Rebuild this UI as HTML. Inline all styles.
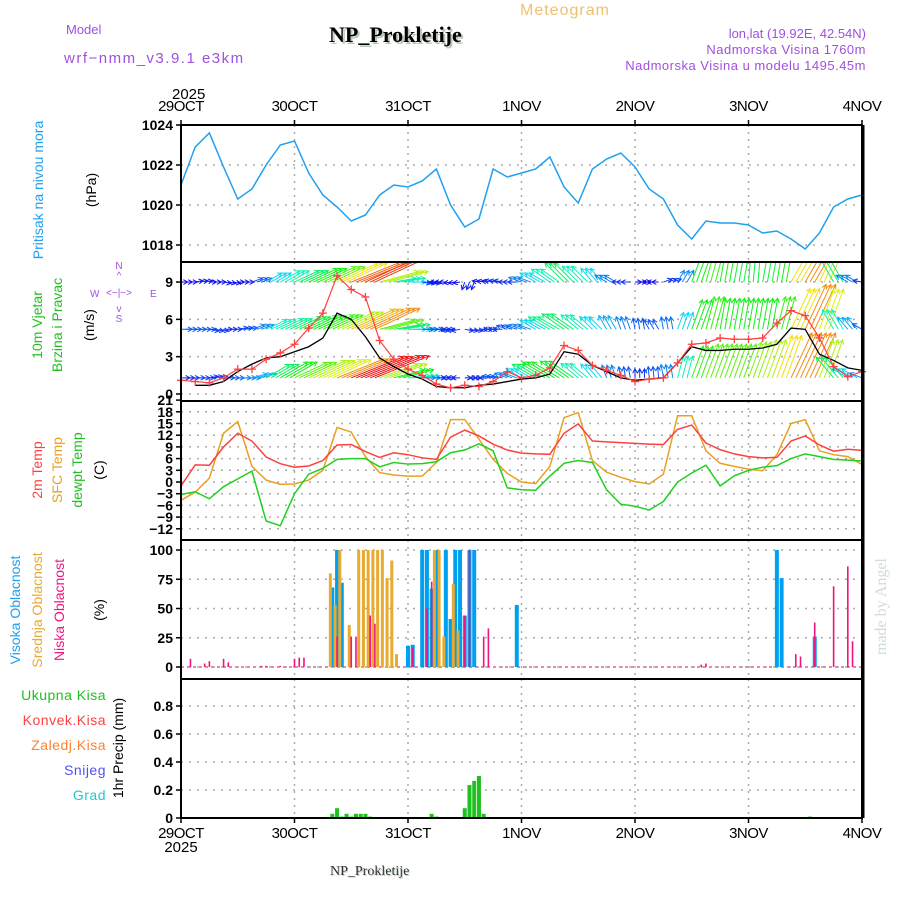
<!DOCTYPE html>
<html><head><meta charset="utf-8"><style>
body{margin:0;background:#fff;width:900px;height:900px;overflow:hidden}
</style></head><body>
<svg id="chart" width="900" height="900" viewBox="0 0 900 900" xmlns="http://www.w3.org/2000/svg" font-family="Liberation Sans, sans-serif">
<text x="520" y="15" font-size="16" fill="#f0c070" letter-spacing="1">Meteogram</text>
<text x="331" y="44" font-size="22" font-weight="bold" font-family="Liberation Serif, serif" fill="#b8c8b8">NP_Prokletije</text>
<text x="329" y="42" font-size="22" font-weight="bold" font-family="Liberation Serif, serif" fill="#000">NP_Prokletije</text>
<text x="66" y="34" font-size="13" fill="#a050e0">Model</text>
<text x="64" y="63" font-size="15" fill="#a050e0" letter-spacing="1.5">wrf−nmm_v3.9.1 e3km</text>
<text x="866" y="38" font-size="13" fill="#a050e0" text-anchor="end">lon,lat (19.92E, 42.54N)</text>
<text x="866" y="54" font-size="13" fill="#a050e0" text-anchor="end" letter-spacing="0.5">Nadmorska Visina 1760m</text>
<text x="866" y="70" font-size="13" fill="#a050e0" text-anchor="end" letter-spacing="0.5">Nadmorska Visina u modelu 1495.45m</text>
<text x="172" y="99" font-size="15" fill="#000">2025</text>
<text x="181" y="852" font-size="15" fill="#000" text-anchor="middle">2025</text>
<text x="331" y="876" font-size="14" font-family="Liberation Serif, serif" fill="#c0d0c0">NP_Prokletije</text>
<text x="330" y="875" font-size="14" font-family="Liberation Serif, serif" fill="#333">NP_Prokletije</text>
<text x="0" y="0" font-size="16" font-family="Liberation Serif, serif" fill="#d0dcd0" transform="translate(886,655) rotate(-90)">made by Angel</text>
<text transform="translate(43,190) rotate(-90)" font-size="14" fill="#20a0f0" text-anchor="middle">Pritisak na nivou mora</text>
<text transform="translate(96,190) rotate(-90)" font-size="14" fill="#000" text-anchor="middle">(hPa)</text>
<text transform="translate(42,325) rotate(-90)" font-size="14" fill="#20c020" text-anchor="middle">10m Vjetar</text>
<text transform="translate(62,325) rotate(-90)" font-size="14" fill="#20c020" text-anchor="middle">Brzina i Pravac</text>
<text transform="translate(94,325) rotate(-90)" font-size="14" fill="#000" text-anchor="middle">(m/s)</text>
<g fill="#a050e0" font-size="10">
<text x="119" y="269" text-anchor="middle">N</text><text x="119" y="279" text-anchor="middle">^</text>
<text x="119" y="296" text-anchor="middle">&lt;−|−&gt;</text><text x="90" y="297">W</text><text x="150" y="297">E</text>
<text x="119" y="312" text-anchor="middle">v</text><text x="119" y="322" text-anchor="middle">S</text></g>
<text transform="translate(42,470) rotate(-90)" font-size="14" fill="#ff4040" text-anchor="middle">2m Temp</text>
<text transform="translate(62,470) rotate(-90)" font-size="14" fill="#e8a020" text-anchor="middle">SFC Temp</text>
<text transform="translate(82,470) rotate(-90)" font-size="14" fill="#20c020" text-anchor="middle">dewpt Temp</text>
<text transform="translate(104,470) rotate(-90)" font-size="14" fill="#000" text-anchor="middle">(C)</text>
<text transform="translate(20,610) rotate(-90)" font-size="14" fill="#20a0f0" text-anchor="middle">Visoka Oblacnost</text>
<text transform="translate(42,610) rotate(-90)" font-size="14" fill="#e8aa30" text-anchor="middle">Srednja Oblacnost</text>
<text transform="translate(64,610) rotate(-90)" font-size="14" fill="#f0147f" text-anchor="middle">Niska Oblacnost</text>
<text transform="translate(104,610) rotate(-90)" font-size="14" fill="#000" text-anchor="middle">(%)</text>
<g font-size="14" text-anchor="end" letter-spacing="0.5">
<text x="106" y="700" fill="#20c020">Ukupna Kisa</text>
<text x="106" y="725" fill="#ff4040">Konvek.Kisa</text>
<text x="106" y="750" fill="#ff8030">Zaledj.Kisa</text>
<text x="106" y="775" fill="#5050f0">Snijeg</text>
<text x="106" y="800" fill="#20c8d0">Grad</text></g>
<text transform="translate(123,748) rotate(-90)" font-size="14" fill="#000" text-anchor="middle">1hr Precip (mm)</text>
</svg>
<script>
const dayLabels=['29OCT','30OCT','31OCT','1NOV','2NOV','3NOV','4NOV'];
const pressure=[1021,1022.9,1023.6,1021.9,1020.3,1020.8,1022,1023,1023.2,1021.6,1020.5,1019.9,1019.2,1019.5,1020.5,1021,1020.9,1021.2,1021.8,1020,1018.9,1019.3,1021.8,1021.4,1021.6,1021.8,1022.4,1020.9,1020.1,1021.8,1022.3,1022.6,1021.9,1020.8,1020.3,1019,1018.3,1019.2,1019.1,1019.1,1019,1018.6,1018.7,1018.3,1017.8,1018.6,1019.9,1020.3,1020.5];
const windSpeed=[1.1,1,0.9,1.3,2,2,2.8,3.3,4,5.3,6.5,9.5,8.4,7.8,4.3,2.8,2,1.5,0.8,0.5,0.7,0.6,1,1.8,1.3,1.5,2.1,3.9,3.5,2.3,1.9,1.5,1,1.2,1.3,2.5,4,4.1,4.5,4.4,4.4,4.5,5.7,6.7,6.3,4.5,2.2,1.4,1.8];
const windGust=[null,0.7,0.7,1,1.8,2.4,2.9,3,3.4,3.8,4.5,6.5,6,4.6,2.9,2.2,1.6,1.2,0.6,0.5,0.5,0.7,0.8,1,1.2,1.3,1.6,3.4,3.2,2.3,1.8,1.3,1.1,1.2,1.3,2.5,3.8,3.5,3.5,3.6,3.6,3.7,4,5.3,5.2,3.2,2.7,2.1,1.9];
const topSpd=[1.5,1.8,1.6,1.7,1.5,2.5,4,5,6,7,8,10,11.5,12,9,5,4,2,1.5,1.5,1.8,1.5,2,2,3,4,5,6,5,4,3,2,1.5,1.5,2,3,7,7.5,7,6.5,6.5,6.5,7,10,11,10,6,3,2];
const topDir=[0,10,0,-10,0,20,30,30,25,25,25,25,22,25,15,10,0,-10,180,190,250,170,170,180,160,150,145,135,135,130,150,180,0,180,20,60,70,75,80,80,85,80,80,60,60,65,120,150,170];
const midSpd=[2.5,2.5,2.2,2,2.3,3,5,5.5,6.5,7,7.5,9,10.5,11,8,6,4,2.5,2,2,2,2,2.2,2.5,3,4,5.5,6,5,4,3.5,3,2.5,2.5,2.8,4,7,7.5,7,7,7,7,7.5,10,11,9.5,5,3.5,2.5];
const midDir=[0,0,350,0,10,20,25,25,25,25,25,25,25,25,15,10,0,0,0,190,350,0,180,160,160,150,150,145,140,135,120,110,100,120,100,70,70,75,80,80,80,80,75,65,65,70,120,130,150];
const botSpd=[2,2.2,2,2.5,3,3.5,6,7,8,9,9.5,11,12.5,13,9,7,5,3,2,1.8,1.5,2,2.5,3,4,6,7,6.5,5,4,3,2.5,2,2.5,3,5,7.5,8,8,8,8.5,9,10,11,11,9,6,4,3];
const botDir=[0,0,10,0,0,15,30,30,25,25,25,22,22,22,20,15,5,0,0,180,0,180,170,160,150,150,150,145,140,130,110,100,90,95,100,75,70,70,70,70,70,70,70,65,65,70,130,150,160];
const temp2m=[-1,4.4,4.3,9,12.5,10.5,6.4,4.7,3.8,4.1,5.5,9.5,9.6,7.8,6.3,7.5,7,6.2,5.8,11.5,13.3,11.8,9.7,8.2,7.4,7.2,7.1,12.5,14.9,10.5,10.3,10.1,9.9,9.7,9.6,13.5,14.6,10,8.3,7.2,6.5,6.2,6.3,10.5,11.8,9.5,7.9,8.4,8.1];
const tempSfc=[-4.7,-2.6,1,12.5,15.5,4,0.5,-0.6,-0.5,0.5,3,14,12.8,6.5,2.4,1.8,1.5,1.5,5,16,16,11,5.8,2.2,0,-0.4,4,16.5,17.8,5.5,2.5,1.2,0.1,-0.5,2,17,17,8,4.8,4,3.3,2.9,7,15,16,8,7,6.5,4.5];
const dewpt=[-3.2,-2.5,-4.3,-1.2,0.8,2.8,-10,-11.2,-3,2,3.5,5.8,6,6,3.9,5,4.6,4.7,5.2,7.5,8.2,9.8,8,-1.5,-2,-2.1,1.5,4.8,5.5,5,-2,-5.7,-6.2,-7.2,-5,0,2.3,4.3,-1,1.6,3,3.8,4.2,6,7.2,6.5,5.8,5.6,5.4];
const highHrs=[32,33,34,48,49,51,52,53,54,56,57,58,59,60,61,62,71,126,127,134];
const highVals=[68,100,72,18,19,100,100,67,100,100,41,100,100,44,100,100,53,100,76,26];
const midHrs=[32,33,34,36,38,39,40,41,42,43,44,45,46,54,55,56,58,59];
const midVals=[80,53,100,36,100,100,100,100,100,100,76,91,11,100,100,26,71,31];
const lowHrs=[2,5,6,9,10,17,18,21,24,25,26,33,36,37,40,41,49,52,53,60,61,64,65,110,111,130,131,134,138,141,142];
const lowVals=[7,3,5,7,4,1,1,1,7,8,8,26,26,26,44,37,17,50,73,44,100,26,33,2,3,11,9,38,69,86,22];
const precipHrs=[32,33,34,35,36,37,38,39,40,53,54,60,61,62,63,64,133];
const precipVals=[0.03,0.07,0.01,0.03,0.01,0.03,0.03,0.03,0.01,0.03,0.01,0.07,0.235,0.265,0.30,0.03,0.01];
const pTicks=[1018,1020,1022,1024];
const wTicks=[0,3,6,9];
const tTicks=[21,18,15,12,9,6,3,0,-3,-6,-9,-12];
const cTicks=[0,25,50,75,100];
const rTicks=[0,0.2,0.4,0.6,0.8];

const NS='http://www.w3.org/2000/svg';
const svg=document.getElementById('chart');
const L=181,R=862,HRS=144;
const X=h=>L+h*(R-L)/HRS;
const P=[
 {top:125,bot:262,y:v=>125+(1024-v)*20},
 {top:262,bot:401,y:v=>394-v*12.44},
 {top:401,bot:540,y:v=>482-v*3.9},
 {top:540,bot:679,y:v=>667-v*1.17},
 {top:679,bot:818,y:v=>818-v*140}];
function mk(tag,attrs,parent){const e=document.createElementNS(NS,tag);for(const k in attrs)e.setAttribute(k,attrs[k]);(parent||svg).appendChild(e);return e;}
function fmt(v){return v<0?'−'+(-v):String(v);}

P.forEach((p,pi)=>{
  const ticks=[pTicks,wTicks,tTicks,cTicks,rTicks][pi];
  for(let d=1;d<6;d++){
    const g=mk('line',{x1:X(d*24),x2:X(d*24),y1:p.top,y2:p.bot,stroke:'#aaa','stroke-width':1.5,'stroke-dasharray':'2,5'});
    
    
  }
  ticks.forEach(t=>{
    const y=p.y(t);
    if(y>p.top+2&&y<p.bot-2){
      const g=mk('line',{x1:L,x2:R,y1:y,y2:y,stroke:'#aaa','stroke-width':1.5,'stroke-dasharray':'2,6'});
      
      
    }
    const tk=mk('line',{x1:L-5,x2:L,y1:y,y2:y,stroke:'#000','stroke-width':1.5});
    
    
    const lb=mk('text',{x:L-8,y:y+5,'font-size':14,'font-weight':'bold','text-anchor':'end',fill:'#000'});
    lb.textContent=fmt(t);
    
    
  });
});

const pl=mk('polyline',{points:pressure.map((v,i)=>X(i*3)+','+P[0].y(v)).join(' '),fill:'none',stroke:'#20a0f0','stroke-width':1.5});



const clip=mk('clipPath',{id:'wclip'});mk('rect',{x:L,y:P[1].top,width:R-L,height:P[1].bot-P[1].top},clip);
const wg=mk('g',{'clip-path':'url(#wclip)'});


function spdColor(s){const h=Math.max(0,Math.min(275,275-s*22));return 'hsl('+h+',90%,50%)';}
[[topSpd,topDir,9,'top'],[midSpd,midDir,5.2,'mid'],[botSpd,botDir,1.3,'bottom']].forEach(([sp,dr,base,nm])=>{
  const y0=P[1].y(base);
  sp.forEach((s,i)=>{
    for(let k=0;k<3;k++){
      const h=i*3+k; if(h>HRS)break;
      const x0=X(h),a=dr[i]*Math.PI/180,len=s*4.5;
      const x1=x0+Math.cos(a)*len,y1=y0-Math.sin(a)*len;
      const c=spdColor(s);
      const ar=mk('path',{d:`M${x0},${y0}L${x1},${y1}M${x1-Math.cos(a-0.5)*5},${y1+Math.sin(a-0.5)*5}L${x1},${y1}L${x1-Math.cos(a+0.5)*5},${y1+Math.sin(a+0.5)*5}`,stroke:c,'stroke-width':1,fill:'none'},wg);
      
      
    }
  });
});
const gl=mk('polyline',{points:windGust.map((v,i)=>v==null?'':X(i*3)+','+P[1].y(v)).filter(s=>s).join(' '),fill:'none',stroke:'#000','stroke-width':1.3});


const sl=mk('polyline',{points:windSpeed.map((v,i)=>X(i*3)+','+P[1].y(v)).join(' '),fill:'none',stroke:'#ff4040','stroke-width':1.2});


windSpeed.forEach((v,i)=>{const x=X(i*3),y=P[1].y(v);
  const m=mk('path',{d:`M${x-4},${y}h8M${x},${y-4}v8`,stroke:'#ff4040','stroke-width':1.3});
  
  });

[[tempSfc,'#e8a020','sfc-temp-line'],[temp2m,'#ff4040','temp-2m-line'],[dewpt,'#20d020','dewpoint-line']].forEach(([arr,c,nm])=>{
  const l=mk('polyline',{points:arr.map((v,i)=>X(i*3)+','+P[2].y(v)).join(' '),fill:'none',stroke:c,'stroke-width':1.5});
  
  
});

const cb=mk('line',{x1:L,x2:R,y1:P[3].y(0),y2:P[3].y(0),stroke:'#e88aa0','stroke-width':2,'stroke-dasharray':'3,3'});


[[highHrs,highVals,'#00a0f0',4,0,'high-cloud-bar'],[midHrs,midVals,'#e8aa30',3,-2,'mid-cloud-bar'],[lowHrs,lowVals,'#f0147f',1.6,0,'low-cloud-bar']].forEach(([hs,vs,c,w,off,nm])=>{
  hs.forEach((h,i)=>{const x=X(h)+off,y=P[3].y(vs[i]);
    const b=mk('rect',{x:x-w/2,y:y,width:w,height:P[3].y(0)-y,fill:c});
    
    });
});

precipHrs.forEach((h,i)=>{const x=X(h),y=P[4].y(precipVals[i]);
  const b=mk('rect',{x:x-2,y:y,width:4,height:P[4].y(0)-y,fill:'#20c020'});
  
  });

P.forEach((p,pi)=>{
  const f=mk('rect',{x:L,y:p.top,width:R-L,height:p.bot-p.top,fill:'none',stroke:'#000','stroke-width':2});
  
  
});
const rb=mk('line',{x1:R+1,x2:R+1,y1:125,y2:818,stroke:'#000','stroke-width':3});



dayLabels.forEach((d,i)=>{const x=X(i*24);
  [[125,-5,111],[818,5,838]].forEach(([y,dy,ty],j)=>{
    const t=mk('line',{x1:x,x2:x,y1:y,y2:y+dy,stroke:'#000','stroke-width':1.5});
    
    
    const lb=mk('text',{x:x,y:ty,'font-size':15,'text-anchor':'middle',fill:'#000','letter-spacing':'-0.5'});
    lb.textContent=d;
    
    
  });
});
</script>
</body></html>
